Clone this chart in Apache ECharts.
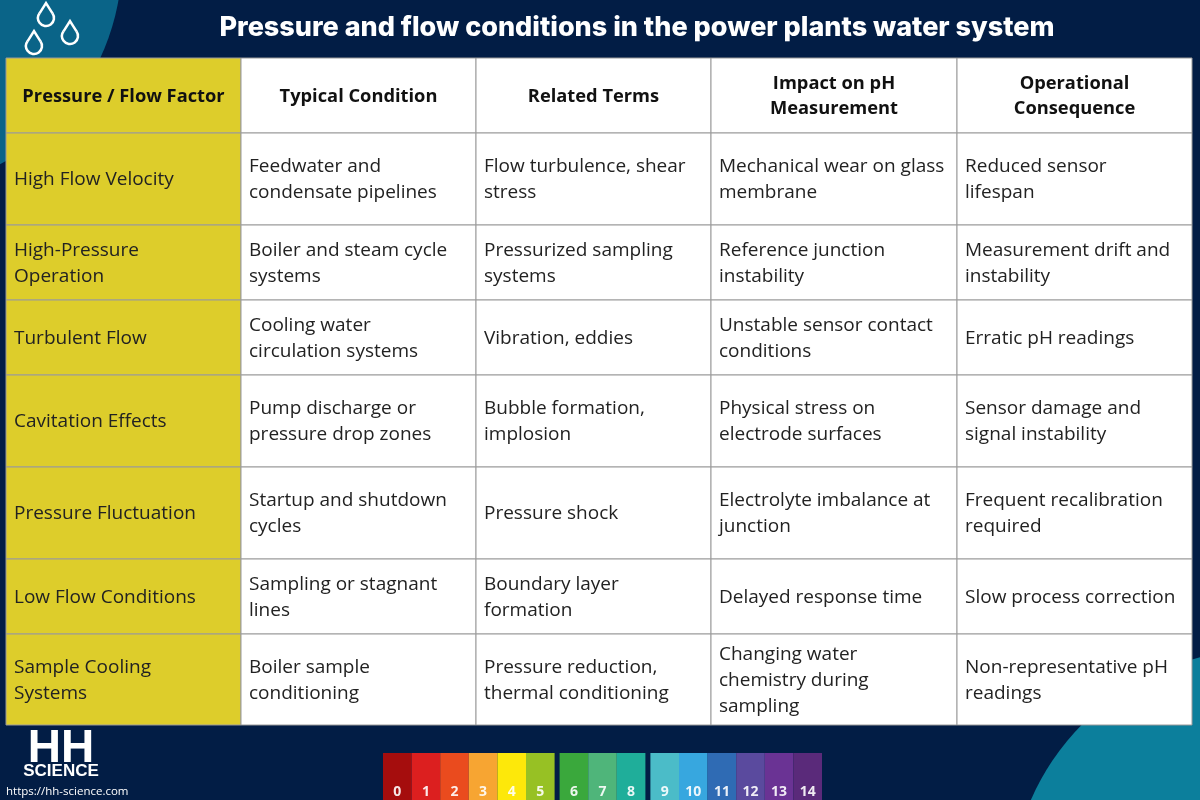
<!DOCTYPE html>
<html><head><meta charset="utf-8">
<script src="https://cdn.jsdelivr.net/npm/echarts@6/dist/echarts.min.js"></script>
<style>html,body{margin:0;padding:0;background:#021d45}#c{width:1200px;height:800px}</style>
</head><body><div id="c"></div>
<script>
const title = "Pressure and flow conditions in the power plants water system";
const headers = ["Pressure / Flow Factor","Typical Condition","Related Terms","Impact on pH\nMeasurement","Operational\nConsequence"];
const factors = ["High Flow Velocity","High-Pressure\nOperation","Turbulent Flow","Cavitation Effects","Pressure Fluctuation","Low Flow Conditions","Sample Cooling\nSystems"];
const conditions = ["Feedwater and\ncondensate pipelines","Boiler and steam cycle\nsystems","Cooling water\ncirculation systems","Pump discharge or\npressure drop zones","Startup and shutdown\ncycles","Sampling or stagnant\nlines","Boiler sample\nconditioning"];
const terms = ["Flow turbulence, shear\nstress","Pressurized sampling\nsystems","Vibration, eddies","Bubble formation,\nimplosion","Pressure shock","Boundary layer\nformation","Pressure reduction,\nthermal conditioning"];
const impacts = ["Mechanical wear on glass\nmembrane","Reference junction\ninstability","Unstable sensor contact\nconditions","Physical stress on\nelectrode surfaces","Electrolyte imbalance at\njunction","Delayed response time","Changing water\nchemistry during\nsampling"];
const consequences = ["Reduced sensor\nlifespan","Measurement drift and\ninstability","Erratic pH readings","Sensor damage and\nsignal instability","Frequent recalibration\nrequired","Slow process correction","Non-representative pH\nreadings"];
const phLabels = ["0","1","2","3","4","5","6","7","8","9","10","11","12","13","14"];
const phColors = ["#a50d0d","#dc1f1f","#ea4b1e","#f7a532","#fde80a","#97c124","#3aa83c","#4fb57a","#1fae9a","#4bbcc8","#37a7df","#2f6bb4","#5a4a9e","#6a3394","#5a2a7a"];

const colX = [6,241,476,711,957,1192];
const rowY = [58,133,225,300,375,467,559,634,725];
const columns = [factors,conditions,terms,impacts,consequences];

const g = [];
g.push({type:'circle',shape:{cx:-110,cy:-40,r:232},style:{fill:'#0a6488'},z:0});
g.push({type:'circle',shape:{cx:1260,cy:900,r:250},style:{fill:'#0c7f9c'},z:0});
[[46,18],[70,36],[34,46]].forEach(d=>{
  g.push({type:'arc',shape:{cx:d[0],cy:d[1],r:8,startAngle:-Math.PI*0.2,endAngle:Math.PI*1.2,clockwise:true},style:{fill:'none',stroke:'#fff',lineWidth:2.5},z:1});
  g.push({type:'polyline',shape:{points:[[d[0]-6.5,d[1]-4.7],[d[0],d[1]-15],[d[0]+6.5,d[1]-4.7]]},style:{fill:'none',stroke:'#fff',lineWidth:2.5},z:1});
});
g.push({type:'text',x:637,y:14,style:{text:title,fill:'#fff',font:'800 27px Inter',textAlign:'center'},z:5});
for(let r=0;r<8;r++){
  for(let c=0;c<5;c++){
    const x=colX[c], y=rowY[r], w=colX[c+1]-colX[c], h=rowY[r+1]-rowY[r];
    const fill = c===0 ? '#ddcd2b' : '#ffffff';
    g.push({type:'rect',shape:{x:x,y:y,width:w,height:h},style:{fill:fill,stroke:'#9a9a9a',lineWidth:1},z:2});
    const txt = r===0 ? headers[c] : columns[c][r-1];
    if(r===0){
      g.push({type:'text',x:x+w/2,y:y+h/2+1,style:{text:txt,fill:'#111',font:'bold 18.3px "Open Sans"',textAlign:'center',textVerticalAlign:'middle',lineHeight:25},z:3});
    } else {
      g.push({type:'text',x:x+8,y:y+h/2+1,style:{text:txt,fill:'#222',font:'19px "Open Sans"',textAlign:'left',textVerticalAlign:'middle',lineHeight:26},z:3});
    }
  }
}
g.push({type:'text',x:61,y:726,style:{text:'HH',fill:'#fff',font:'bold 46px "Liberation Sans Narrow", "Liberation Sans"',textAlign:'center'},z:3});
g.push({type:'text',x:61,y:763,style:{text:'SCIENCE',fill:'#fff',font:'bold 17px "Liberation Sans Narrow", "Liberation Sans"',textAlign:'center'},z:3});
g.push({type:'text',x:6,y:786,style:{text:'https://hh-science.com',fill:'#fff',font:'11.5px "Open Sans"'},z:3});
let px=383;
phLabels.forEach((l,i)=>{
  if(i===6||i===9) px+=5;
  g.push({type:'rect',shape:{x:px,y:753,width:28.6,height:47},style:{fill:phColors[i]},z:2});
  g.push({type:'text',x:px+14.3,y:799,style:{text:l,fill:'#fff',font:'bold 14px "Open Sans"',textAlign:'center',textVerticalAlign:'bottom',opacity:0.9},z:3});
  px+=28.6;
});
const chart = echarts.init(document.getElementById('c'));
chart.setOption({backgroundColor:'#021d45',graphic:{elements:g}});
</script></body></html>
